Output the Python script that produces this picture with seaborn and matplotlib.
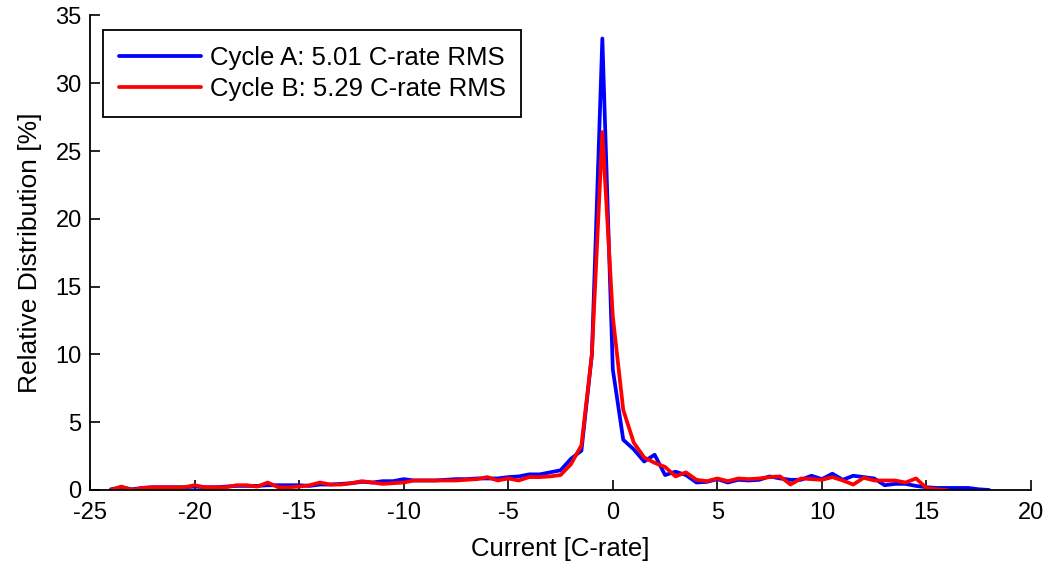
import numpy as np
import pandas as pd
import seaborn as sns
import matplotlib
matplotlib.use("Agg")
import matplotlib.pyplot as plt

# bin centres [C-rate]
current_a = np.arange(-24, 18.5, 0.5)
current_b = np.arange(-24, 16.5, 0.5)

# relative distribution [%]
cycle_a = [
    0.05, 0.2, 0.05, 0.15, 0.2, 0.2, 0.2, 0.2, 0.25, 0.2,          # -24 .. -19.5
    0.2, 0.25, 0.3, 0.3, 0.3, 0.35, 0.35, 0.35, 0.35, 0.3,         # -19 .. -14.5
    0.4, 0.4, 0.45, 0.5, 0.6, 0.55, 0.65, 0.65, 0.8, 0.7,          # -14 .. -9.5
    0.7, 0.7, 0.75, 0.8, 0.8, 0.85, 0.85, 0.85, 0.95, 1.0,         # -9 .. -4.5
    1.15, 1.15, 1.3, 1.45, 2.3, 2.9, 10.0, 33.3, 8.9, 3.7,         # -4 .. 0.5
    3.0, 2.1, 2.6, 1.1, 1.35, 1.1, 0.55, 0.6, 0.8, 0.55,           # 1 .. 5.5
    0.75, 0.7, 0.75, 1.0, 0.85, 0.75, 0.75, 1.05, 0.8, 1.2,        # 6 .. 10.5
    0.75, 1.05, 0.95, 0.85, 0.35, 0.45, 0.45, 0.3, 0.2, 0.15,      # 11 .. 15.5
    0.15, 0.15, 0.15, 0.05, 0.0,                                   # 16 .. 18
]
cycle_b = [
    0.0, 0.25, 0.0, 0.15, 0.2, 0.2, 0.2, 0.2, 0.35, 0.2,           # -24 .. -19.5
    0.2, 0.2, 0.35, 0.35, 0.25, 0.55, 0.2, 0.2, 0.25, 0.35,        # -19 .. -14.5
    0.55, 0.4, 0.4, 0.5, 0.65, 0.55, 0.45, 0.5, 0.55, 0.7,         # -14 .. -9.5
    0.7, 0.7, 0.7, 0.7, 0.75, 0.8, 0.95, 0.7, 0.85, 0.7,           # -9 .. -4.5
    0.95, 0.95, 1.0, 1.1, 1.9, 3.3, 10.0, 26.4, 12.8, 5.9,         # -4 .. 0.5
    3.5, 2.4, 2.0, 1.7, 1.0, 1.3, 0.75, 0.65, 0.85, 0.65,          # 1 .. 5.5
    0.85, 0.8, 0.85, 0.95, 1.0, 0.4, 0.85, 0.8, 0.75, 0.95,        # 6 .. 10.5
    0.7, 0.4, 0.9, 0.7, 0.7, 0.7, 0.55, 0.85, 0.15, 0.05,          # 11 .. 15.5
    0.0,                                                           # 16
]
labels = ["Cycle A: 5.01 C-rate RMS", "Cycle B: 5.29 C-rate RMS"]

df_a = pd.DataFrame({"current": current_a, "dist": cycle_a})
df_b = pd.DataFrame({"current": current_b, "dist": cycle_b})

sns.set_style("white")
plt.rcParams["font.family"] = ["Liberation Sans", "DejaVu Sans"]
plt.rcParams["axes.unicode_minus"] = False
plt.rcParams["text.color"] = "black"
plt.rcParams["axes.labelcolor"] = "black"

fig = plt.figure(figsize=(10.48, 5.63), dpi=100)
ax = fig.add_axes([0.0859, 0.1297, 0.8979, 0.8428])

sns.lineplot(data=df_a, x="current", y="dist", color="#0000ff", lw=2.7,
             label=labels[0], ax=ax)
sns.lineplot(data=df_b, x="current", y="dist", color="#ff0000", lw=2.7,
             label=labels[1], ax=ax)

ax.set_xlim(-25, 20)
ax.set_ylim(0, 35)
ax.set_xticks(range(-25, 21, 5))
ax.set_yticks(range(0, 36, 5))
ax.set_xlabel("Current [C-rate]", fontsize=18.5, labelpad=9)
ax.set_ylabel("Relative Distribution [%]", fontsize=19, labelpad=10)

ax.tick_params(direction="in", length=7, width=1.2, colors="black",
               labelsize=17, left=True, bottom=True)
ax.tick_params(axis="x", pad=9)
ax.tick_params(axis="y", pad=6)
for side in ["top", "right"]:
    ax.spines[side].set_visible(False)
for side in ["left", "bottom"]:
    ax.spines[side].set_color("black")
    ax.spines[side].set_linewidth(1.3)

leg = ax.legend(loc="upper left", bbox_to_anchor=(0.014, 0.969),
                borderaxespad=0, fontsize=18.5, handlelength=3.2,
                handletextpad=0.35, labelspacing=0.3, borderpad=0.6,
                fancybox=False, framealpha=1)
leg.get_frame().set_edgecolor("black")
leg.get_frame().set_linewidth(1.3)

fig.savefig("out.png", dpi=100)
